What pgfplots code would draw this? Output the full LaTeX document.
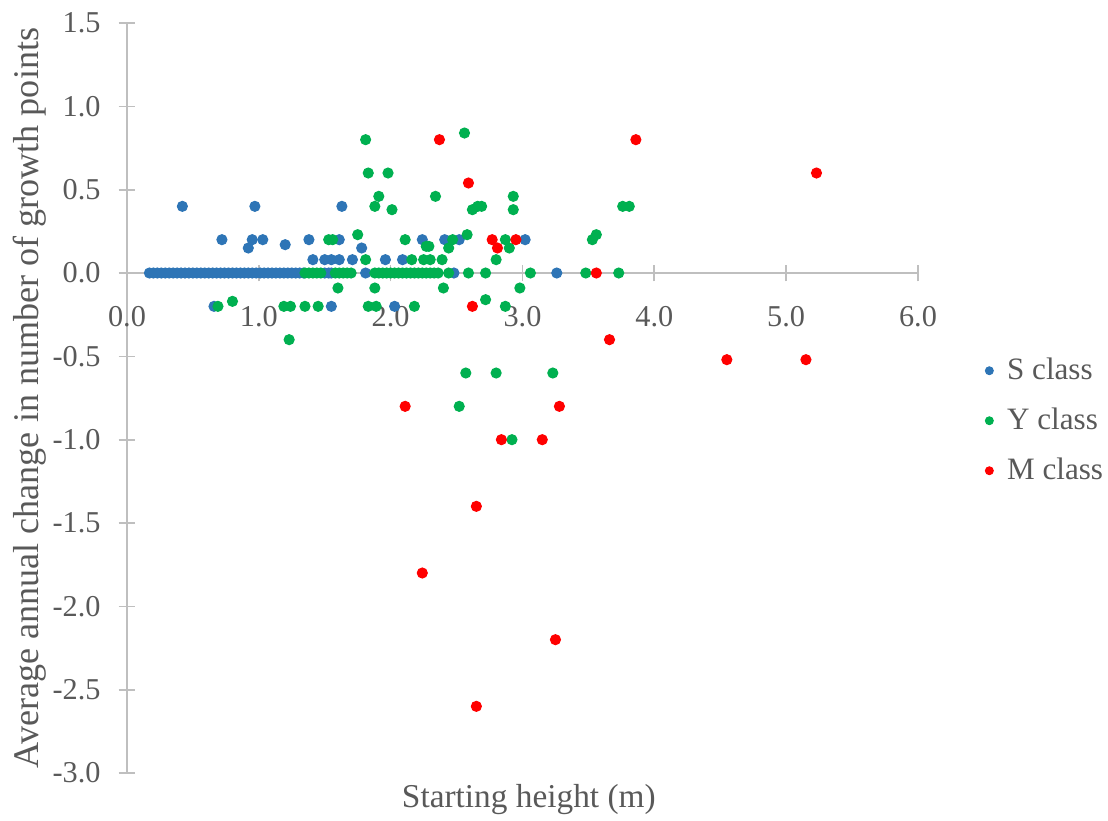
\documentclass[border=0pt]{standalone}
\usepackage{fontspec}
\setmainfont{Liberation Serif}
\usepackage{pgfplots}
\pgfplotsset{compat=1.18}
\definecolor{sblue}{HTML}{2E75B6}
\definecolor{ygreen}{HTML}{00B050}
\definecolor{mred}{HTML}{FF0000}
\definecolor{axgray}{HTML}{BFBFBF}
\definecolor{txtgray}{HTML}{595959}
\pgfplotsset{dotlegend/.style={legend image code/.code={\draw[##1, mark size=1.4pt] plot coordinates {(0pt,0pt)};}}}
\begin{document}
\begin{tikzpicture}
\useasboundingbox (-45.72pt,-16.92pt) rectangle (353.16pt,278.28pt);
\begin{axis}[
 scale only axis, width=284.76pt, height=270pt,
 xmin=0, xmax=6, ymin=-3, ymax=1.5,
 axis x line=middle, axis y line=left,
 axis line style={draw=axgray, line width=0.6pt, -},
 hide obscured x ticks=false, hide obscured y ticks=false,
 xtick={0,1,2,3,4,5,6}, ytick={-3,-2.5,-2,-1.5,-1,-0.5,0,0.5,1,1.5},
 tick align=center, major tick length=6pt,
 tick style={draw=axgray, line width=0.6pt},
 /pgf/number format/.cd, fixed, fixed zerofill, precision=1, assume math mode=true, /pgfplots/.cd,
 ticklabel style={font=\fontsize{10.9}{12}\selectfont, text=txtgray},
 xticklabel style={anchor=center, yshift=-12.8pt},
 yticklabel style={anchor=east, xshift=-3pt},
 xlabel={Starting height (m)},
 ylabel={Average annual change in number of growth points},
 every axis x label/.style={at={(axis description cs:0.508,-0.036)}, anchor=center, font=\fontsize{12}{14}\selectfont, text=txtgray},
 every axis y label/.style={at={(axis description cs:-0.1226,0.5)}, anchor=center, rotate=90, font=\fontsize{13}{15}\selectfont, text=txtgray},
 legend style={draw=none, fill=none, at={(axis description cs:1.0846,0.4697)}, anchor=west,
   font=\fontsize{11.2}{13}\selectfont, text=txtgray, inner sep=0pt,
   nodes={inner sep=0pt, text height=8pt, text depth=2pt}, row sep=8pt, column sep=5pt},
 legend cell align=left,
 clip=false,
]
\addplot[only marks, mark=*, color=sblue, mark size=1.8pt, dotlegend] coordinates {
(0.17,0)(0.20,0)(0.23,0)(0.26,0)(0.29,0)(0.32,0)(0.35,0)(0.38,0)(0.41,0)(0.44,0)
(0.47,0)(0.50,0)(0.53,0)(0.56,0)(0.59,0)(0.62,0)(0.65,0)(0.68,0)(0.71,0)(0.74,0)
(0.77,0)(0.80,0)(0.83,0)(0.86,0)(0.89,0)(0.92,0)(0.95,0)(0.98,0)(1.01,0)(1.04,0)
(1.07,0)(1.10,0)(1.13,0)(1.16,0)(1.19,0)(1.22,0)(1.25,0)(1.28,0)(1.31,0)(1.34,0)
(1.50,0)(1.53,0)(1.55,0)(1.81,0)(2.48,0)(3.26,0)
(0.42,0.4)(0.97,0.4)(1.63,0.4)
(0.72,0.2)(0.95,0.2)(1.03,0.2)(1.38,0.2)(1.61,0.2)(2.24,0.2)(2.41,0.2)(2.52,0.2)(3.02,0.2)
(1.20,0.17)(0.92,0.15)(1.78,0.15)
(1.41,0.08)(1.50,0.08)(1.55,0.08)(1.61,0.08)(1.71,0.08)(1.96,0.08)(2.09,0.08)
(0.66,-0.2)(1.55,-0.2)(2.03,-0.2)
};
\addlegendentry{S class}
\addplot[only marks, mark=*, color=ygreen, mark size=1.8pt, dotlegend] coordinates {
(1.81,0.8)(2.56,0.84)(1.83,0.6)(1.98,0.6)(1.91,0.46)(2.34,0.46)(2.93,0.46)
(1.88,0.4)(2.66,0.4)(2.69,0.4)(3.76,0.4)(3.81,0.4)(2.01,0.38)(2.62,0.38)(2.93,0.38)
(1.75,0.23)(2.58,0.23)(3.56,0.23)(1.53,0.2)(1.56,0.2)(2.11,0.2)(2.47,0.2)(2.87,0.2)(3.53,0.2)
(2.27,0.16)(2.29,0.16)(2.44,0.15)(2.90,0.15)
(1.81,0.08)(2.16,0.08)(2.25,0.08)(2.30,0.08)(2.39,0.08)(2.80,0.08)
(1.35,0)(1.38,0)(1.41,0)(1.44,0)(1.47,0)(1.58,0)(1.61,0)(1.64,0)(1.67,0)(1.70,0)
(1.88,0)(1.91,0)(1.94,0)(1.97,0)(2.00,0)(2.03,0)(2.06,0)(2.09,0)(2.12,0)(2.15,0)
(2.18,0)(2.21,0)(2.24,0)(2.27,0)(2.30,0)(2.33,0)(2.36,0)(2.44,0)(2.59,0)(2.72,0)
(3.06,0)(3.48,0)(3.73,0)
(1.60,-0.09)(1.88,-0.09)(2.40,-0.09)(2.98,-0.09)(2.72,-0.16)(0.80,-0.17)
(0.69,-0.2)(1.19,-0.2)(1.24,-0.2)(1.35,-0.2)(1.45,-0.2)(1.83,-0.2)(1.89,-0.2)(2.18,-0.2)(2.87,-0.2)
(1.23,-0.4)(2.57,-0.6)(2.80,-0.6)(3.23,-0.6)(2.52,-0.8)(2.92,-1.0)
};
\addlegendentry{Y class}
\addplot[only marks, mark=*, color=mred, mark size=1.8pt, dotlegend] coordinates {
(2.37,0.8)(3.86,0.8)(5.23,0.6)(2.59,0.54)(2.77,0.2)(2.95,0.2)(2.81,0.15)(3.56,0)
(2.62,-0.2)(3.66,-0.4)(4.55,-0.52)(5.15,-0.52)(2.11,-0.8)(3.28,-0.8)(2.84,-1.0)
(3.15,-1.0)(2.65,-1.4)(2.24,-1.8)(3.25,-2.2)(2.65,-2.6)
};
\addlegendentry{M class}
\end{axis}
\end{tikzpicture}
\end{document}
